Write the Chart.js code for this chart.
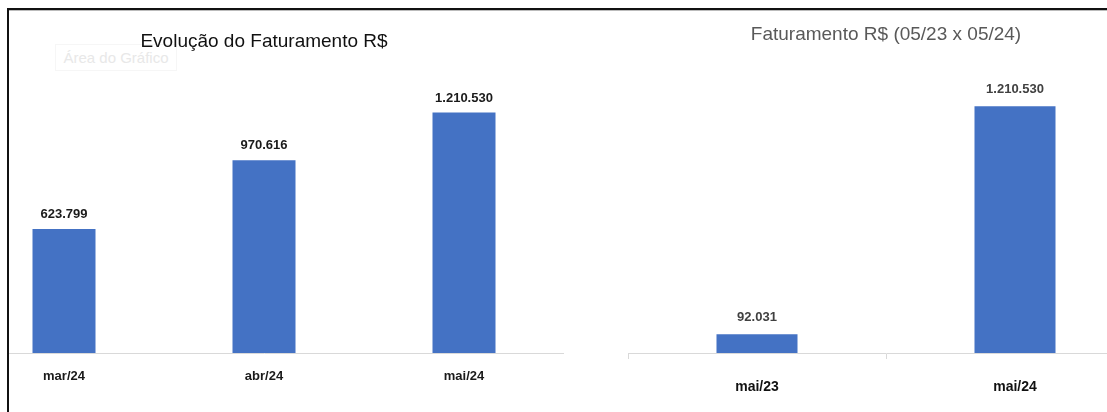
<!DOCTYPE html>
<html>
<head>
<meta charset="utf-8">
<script src="https://cdn.jsdelivr.net/npm/chart.js@4.4.1/dist/chart.umd.min.js"></script>
<style>
  html, body { margin: 0; padding: 0; background: #fff; }
  body { width: 1107px; height: 412px; overflow: hidden; position: relative; font-family: "Liberation Sans Narrow", "Liberation Sans", sans-serif; }
  #frame { position: absolute; left: 7px; top: 8px; width: 1120px; height: 420px; border-top: 2px solid #111; border-left: 2px solid #111; box-shadow: inset 0 1px 0 #bbb; z-index: 5; pointer-events: none; }
  #leftClip { position: absolute; left: 9px; top: 10px; width: 600px; height: 402px; overflow: hidden; }
  #leftClip canvas { position: absolute; left: -45px; top: 0; }
  #rightWrap { position: absolute; left: 628px; top: 10px; }
  #ghost { position: absolute; left: 55px; top: 44px; width: 120px; height: 25px; border: 1px solid #f6f6f6; color: #e8e8e8; font-size: 15px; line-height: 25px; text-align: center; z-index: 0; }
</style>
</head>
<body>
<div id="ghost">Área do Gráfico</div>
<div id="leftClip"><canvas id="evolucaoChart" width="600" height="400"></canvas></div>
<div id="rightWrap"><canvas id="comparativoChart" width="516" height="400"></canvas></div>
<div id="frame"></div>
<script>
// Dados - Evolução do Faturamento
const evolucaoMeses = ['mar/24', 'abr/24', 'mai/24'];
const evolucaoValores = [623799, 970616, 1210530];

// Dados - Comparativo 05/23 x 05/24
const comparativoMeses = ['mai/23', 'mai/24'];
const comparativoValores = [92031, 1210530];

const FONTE = '"Liberation Sans Narrow", "Liberation Sans", sans-serif';
const AZUL = '#4472C4';

function formatarBR(n) {
    return String(n).replace(/\B(?=(\d{3})+(?!\d))/g, '.');
}

// Plugin simples para escrever os valores acima das barras
const rotulosValores = {
    id: 'rotulosValores',
    afterDatasetsDraw(chart, args, opts) {
        const ctx = chart.ctx;
        const meta = chart.getDatasetMeta(0);
        const valores = chart.data.datasets[0].data;
        ctx.save();
        ctx.font = opts.font;
        ctx.fillStyle = opts.color;
        ctx.textAlign = 'center';
        ctx.textBaseline = 'bottom';
        meta.data.forEach((bar, i) => {
            ctx.fillText(formatarBR(valores[i]), bar.x, bar.y - opts.offset);
        });
        ctx.restore();
    }
};

// Gráfico da esquerda
new Chart(document.getElementById('evolucaoChart'), {
    type: 'bar',
    data: {
        labels: evolucaoMeses,
        datasets: [{
            data: evolucaoValores,
            backgroundColor: AZUL,
            borderWidth: 0,
            categoryPercentage: 1,
            barPercentage: 0.315
        }]
    },
    plugins: [rotulosValores],
    options: {
        responsive: false,
        animation: false,
        layout: { padding: 0 },
        plugins: {
            legend: { display: false },
            tooltip: { enabled: false },
            title: {
                display: true,
                text: 'Evolução do Faturamento R$',
                color: '#111',
                font: { family: FONTE, size: 19, weight: 'normal' },
                padding: { top: 20, bottom: 29 }
            },
            rotulosValores: { font: 'bold 13px ' + FONTE, color: '#1a1a1a', offset: 8 }
        },
        scales: {
            x: {
                grid: { display: false, drawTicks: false },
                border: { display: true, color: '#d9d9d9', width: 1 },
                ticks: { color: '#1a1a1a', font: { family: FONTE, size: 13, weight: 'bold' }, padding: 16 },
                afterFit: s => { s.height = 57; }
            },
            y: { display: false, min: 0, max: 1365000 }
        }
    }
});

// Gráfico da direita
new Chart(document.getElementById('comparativoChart'), {
    type: 'bar',
    data: {
        labels: comparativoMeses,
        datasets: [{
            data: comparativoValores,
            backgroundColor: AZUL,
            borderWidth: 0,
            categoryPercentage: 1,
            barPercentage: 0.314
        }]
    },
    plugins: [rotulosValores],
    options: {
        responsive: false,
        animation: false,
        layout: { padding: 0 },
        plugins: {
            legend: { display: false },
            tooltip: { enabled: false },
            title: {
                display: true,
                text: 'Faturamento R$ (05/23 x 05/24)',
                color: '#595959',
                font: { family: FONTE, size: 19, weight: 'normal' },
                padding: { top: 13, bottom: 36 }
            },
            rotulosValores: { font: 'bold 13px ' + FONTE, color: '#404040', offset: 10 }
        },
        scales: {
            x: {
                grid: { display: true, offset: true, drawOnChartArea: false, drawTicks: true, tickLength: 6, color: '#d9d9d9' },
                border: { display: true, color: '#d9d9d9', width: 1 },
                ticks: { color: '#111', font: { family: FONTE, size: 14, weight: 'bold' }, padding: 20 },
                afterFit: s => { s.height = 57; }
            },
            y: { display: false, min: 0, max: 1330000 }
        }
    }
});
</script>
</body>
</html>
